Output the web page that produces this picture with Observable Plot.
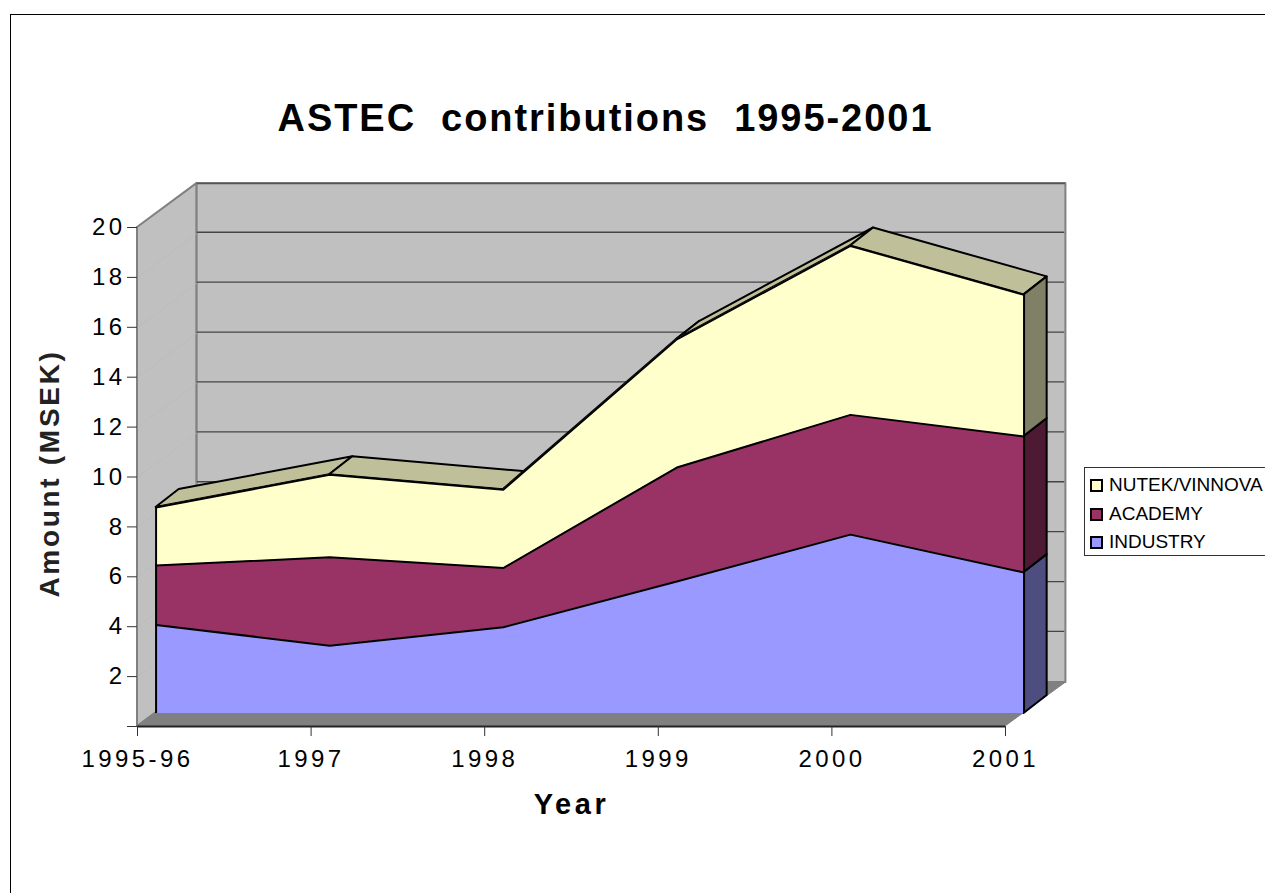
<!DOCTYPE html>
<html>
<head>
<meta charset="utf-8">
<title>ASTEC contributions 1995-2001</title>
<script src="https://cdn.jsdelivr.net/npm/d3@7"></script>
<script src="https://cdn.jsdelivr.net/npm/@observablehq/plot@0.6"></script>
<style>
  html, body { margin: 0; padding: 0; background: #fff; overflow: hidden; }
  #page { position: relative; width: 1265px; height: 893px; overflow: hidden; font-family: "Liberation Sans", Arial, sans-serif; }
  #sheet { position: absolute; left: 10px; top: 14px; width: 1300px; height: 900px; border-left: 1px solid #000; border-top: 1px solid #000; }
  #title { position: absolute; left: 0; width: 1211px; top: 97px; text-align: center; font-size: 38px; font-weight: bold; letter-spacing: 1.95px; white-space: pre; color: #000; }
  #legend { position: absolute; left: 1084px; top: 467px; width: 200px; height: 89px; border: 1px solid #333; box-sizing: border-box; }
  #legend div { position: absolute; left: 24px; font-size: 19px; line-height: 22px; white-space: nowrap; color: #000; }
  #legend i { position: absolute; left: -19px; top: 5px; width: 9px; height: 9px; border: 2px solid #000; }
  svg { position: absolute; left: 0; top: 0; }
  g[aria-label="y-axis tick label"], g[aria-label="x-axis tick label"] { font: 24px "Liberation Sans", Arial, sans-serif; letter-spacing: 3.4px; fill: #000; }
  g[aria-label="x-axis label"] { font: bold 29px "Liberation Sans", Arial, sans-serif; letter-spacing: 3.6px; fill: #000; }
  g[aria-label="y-axis label"] { font: bold 28px "Liberation Sans", Arial, sans-serif; letter-spacing: 2.7px; fill: #222; transform: translate(-98px, -3px); }
</style>
</head>
<body>
<div id="page">
  <div id="sheet"></div>
  <div id="title"></div>
  <div id="chart"></div>
  <div id="legend"></div>
</div>
<script>
// Contributions per year in MSEK
const years = ["1995-96", "1997", "1998", "1999", "2000", "2001"];
const industry = [3.55, 2.72, 3.46, 5.29, 7.17, 5.65];
const academy  = [2.38, 3.54, 2.37, 4.57, 4.80, 5.45];
const nutek    = [2.33, 3.31, 3.14, 5.14, 6.77, 5.68];

const seriesNames = ["INDUSTRY", "ACADEMY", "NUTEK/VINNOVA"];
const seriesValues = [industry, academy, nutek];
const frontColors = ["#9999ff", "#993366", "#ffffcc"];
const sideColors  = ["#4d4d80", "#4d1933", "#808066"];
const topColor = "#bfbf99";

const yTicks = [0, 2, 4, 6, 8, 10, 12, 14, 16, 18, 20];
const xTicks = years.map((_, i) => i);

// Oblique projection: how far one step into the chart's depth moves a point,
// in category units across and MSEK units upward.
const nearPlane = {x: 0.107, y: 0.52};
const farPlane  = {x: 0.240, y: 1.24};
const wallPlane = {x: 0.342, y: 1.76};
const last = years.length - 1;

// Running totals give the upper edge of each stacked band
const totals = [];
seriesValues.forEach((vals, s) => totals.push(vals.map((v, i) => v + (s ? totals[s - 1][i] : 0))));

// A quad as two rows for an area mark with x1,y1,x2,y2
const quad = (a, b, c, d) => [
  {x1: a[0], y1: a[1], x2: b[0], y2: b[1]},
  {x1: d[0], y1: d[1], x2: c[0], y2: c[1]}
];
const areaXY = {x1: "x1", y1: "y1", x2: "x2", y2: "y2"};
const at = (i, v, plane) => [i + plane.x, v + plane.y];
const W = wallPlane;
const wallRight = last + W.x + 0.006;
const gridRise = W.y + 0.05;

const shell = [
  // back wall
  Plot.area(quad([W.x, W.y], [wallRight, W.y], [wallRight, 20 + W.y], [W.x, 20 + W.y]),
    {...areaXY, fill: "#c0c0c0", stroke: "#808080", strokeWidth: 2}),
  // side wall
  Plot.area(quad([0, 0], [W.x, W.y], [W.x, 20 + W.y], [0, 20]),
    {...areaXY, fill: "#c0c0c0", stroke: "#808080", strokeWidth: 2}),
  // floor
  Plot.area(quad([0, 0], [last, 0], [wallRight, W.y], [W.x, W.y]),
    {...areaXY, fill: "#808080", stroke: "#808080", strokeWidth: 1}),
  // gridlines on the back wall and their faint continuation on the side wall
  Plot.link(yTicks.slice(1, -1), {x1: W.x, x2: last + W.x - 0.004, y1: v => v + gridRise, y2: v => v + gridRise, stroke: "#444", strokeWidth: 1.3}),
  Plot.link(yTicks.slice(1, -1), {x1: 0, x2: W.x, y1: v => v, y2: v => v + W.y, stroke: "#b9b9b9", strokeWidth: 0.6}),
  // darker upper rim of the back wall
  Plot.link([20], {x1: W.x, x2: last + W.x, y1: v => v + W.y, y2: v => v + W.y, stroke: "#555", strokeWidth: 1.5})
];

// Upper surface of the stack, one facet per year interval
const tops = d3.range(last).map(i => {
  const t = totals[2];
  return Plot.area(quad(at(i, t[i], nearPlane), at(i, t[i], farPlane), at(i + 1, t[i + 1], farPlane), at(i + 1, t[i + 1], nearPlane)),
    {...areaXY, fill: topColor, stroke: "#000", strokeWidth: 2, strokeLinejoin: "round"});
});

// End faces of the three bands on the right
const sides = seriesValues.map((_, s) => {
  const lo = s ? totals[s - 1][last] : 0, hi = totals[s][last];
  return Plot.area(quad(at(last, lo, nearPlane), at(last, lo, farPlane), at(last, hi, farPlane), at(last, hi, nearPlane)),
    {...areaXY, fill: sideColors[s], stroke: "#000", strokeWidth: 2, strokeLinejoin: "round"});
});

// Front faces: all fills first, then the band edges so none gets covered
const bandRows = seriesValues.map((_, s) => years.map((_, i) => ({
  x: i + nearPlane.x,
  y1: (s ? totals[s - 1][i] : 0) + nearPlane.y,
  y2: totals[s][i] + nearPlane.y
})));
const fills = bandRows.map((rows, s) => Plot.areaY(rows, {x: "x", y1: "y1", y2: "y2", fill: frontColors[s]}));
const bandEdges = bandRows.map(rows => Plot.line(rows, {x: "x", y: "y2", stroke: "#000", strokeWidth: 2, strokeLinejoin: "round"}));

// Vertical edges at both ends of the front face
const edges = [0, last].map(i =>
  Plot.ruleX([i + nearPlane.x], {y1: nearPlane.y, y2: totals[2][i] + nearPlane.y, stroke: "#000", strokeWidth: 2})
);

const chart = Plot.plot({
  width: 1265,
  height: 893,
  marginLeft: 137,
  marginRight: 260,
  marginTop: 227,
  marginBottom: 167,
  style: {background: "transparent", overflow: "visible"},
  x: {domain: [0, last]},
  y: {domain: [0, 20]},
  marks: [
    ...shell,
    ...tops,
    ...sides,
    ...fills,
    ...bandEdges,
    ...edges,
    Plot.ruleY([0], {stroke: "#222", strokeWidth: 2}),
    Plot.axisY({
      ticks: yTicks,
      tickSize: 10,
      tickPadding: 2,
      stroke: "#333",
      tickFormat: v => (v === 0 ? "" : String(v)),
      label: "Amount (MSEK)",
      labelAnchor: "center",
      labelArrow: "none",
      labelOffset: 97
    }),
    Plot.axisX({
      ticks: xTicks,
      tickSize: 10,
      tickPadding: 13,
      stroke: "#333",
      tickFormat: i => years[i],
      label: "Year",
      labelAnchor: "center",
      labelArrow: "none",
      labelOffset: 87
    })
  ]
});
document.getElementById("chart").append(chart);

document.getElementById("title").textContent = "ASTEC  contributions  1995-2001";

// Legend lists the bands from the top of the stack down
const legend = document.getElementById("legend");
[2, 1, 0].forEach((s, row) => {
  const entry = document.createElement("div");
  entry.style.top = (6 + row * 28.6) + "px";
  const swatch = document.createElement("i");
  swatch.style.background = frontColors[s];
  entry.append(swatch, seriesNames[s]);
  legend.append(entry);
});
</script>
</body>
</html>
